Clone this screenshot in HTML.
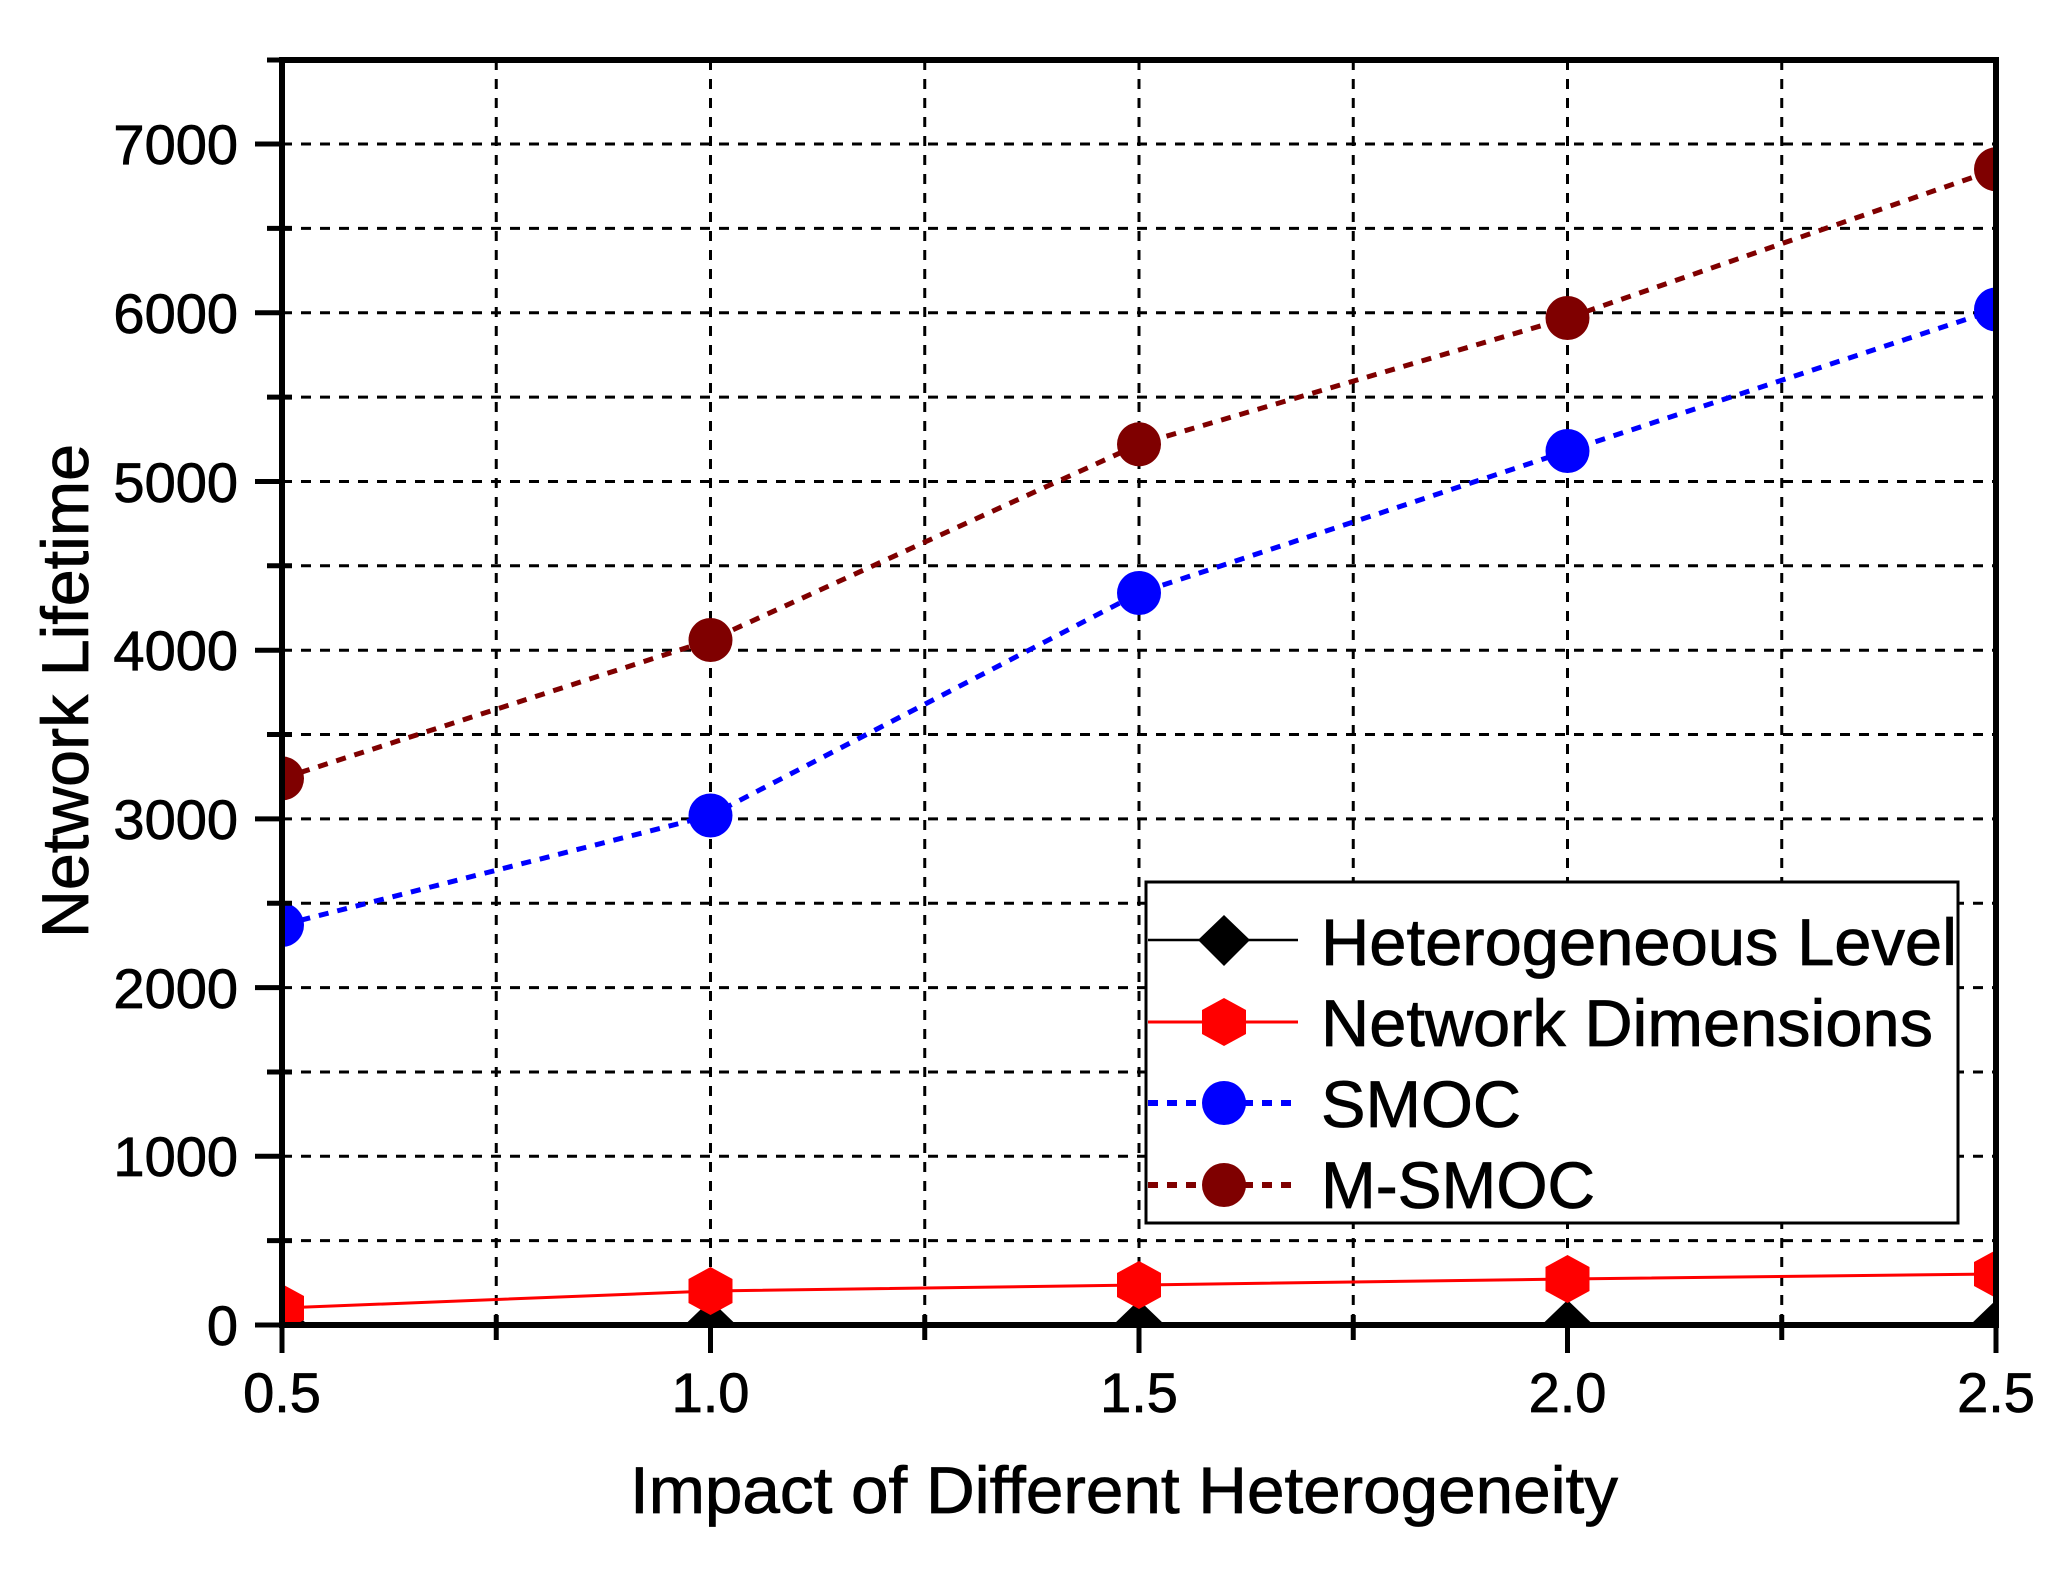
<!DOCTYPE html>
<html><head><meta charset="utf-8"><style>html,body{margin:0;padding:0;background:#fff}svg{display:block}</style></head>
<body>
<svg width="2059" height="1571" viewBox="0 0 2059 1571" xmlns="http://www.w3.org/2000/svg" font-family="Liberation Sans, Arial, sans-serif">
<defs>
<clipPath id="pa"><rect x="282" y="60" width="1714" height="1265"/></clipPath>
</defs>
<rect width="2059" height="1571" fill="#fff"/>
<g stroke="#000" stroke-width="3" stroke-dasharray="10,9" fill="none">
<line x1="282" y1="1240.6" x2="1996" y2="1240.6"/>
<line x1="282" y1="1156.3" x2="1996" y2="1156.3"/>
<line x1="282" y1="1072" x2="1996" y2="1072"/>
<line x1="282" y1="987.6" x2="1996" y2="987.6"/>
<line x1="282" y1="903.2" x2="1996" y2="903.2"/>
<line x1="282" y1="818.9" x2="1996" y2="818.9"/>
<line x1="282" y1="734.5" x2="1996" y2="734.5"/>
<line x1="282" y1="650.2" x2="1996" y2="650.2"/>
<line x1="282" y1="565.8" x2="1996" y2="565.8"/>
<line x1="282" y1="481.5" x2="1996" y2="481.5"/>
<line x1="282" y1="397.1" x2="1996" y2="397.1"/>
<line x1="282" y1="312.8" x2="1996" y2="312.8"/>
<line x1="282" y1="228.4" x2="1996" y2="228.4"/>
<line x1="282" y1="144" x2="1996" y2="144"/>
<line x1="496.25" y1="60" x2="496.25" y2="1325"/>
<line x1="710.5" y1="60" x2="710.5" y2="1325"/>
<line x1="924.75" y1="60" x2="924.75" y2="1325"/>
<line x1="1139" y1="60" x2="1139" y2="1325"/>
<line x1="1353.25" y1="60" x2="1353.25" y2="1325"/>
<line x1="1567.5" y1="60" x2="1567.5" y2="1325"/>
<line x1="1781.75" y1="60" x2="1781.75" y2="1325"/>
</g>
<g clip-path="url(#pa)">
<polyline points="282,1325 710.5,1325 1139,1325 1567.5,1325 1996,1325" stroke="#000" stroke-width="2.5" fill="none"/>
<g fill="#000">
<polygon points="282,1300 308,1325 282,1350 256,1325"/>
<polygon points="710.5,1300 736.5,1325 710.5,1350 684.5,1325"/>
<polygon points="1139,1300 1165,1325 1139,1350 1113,1325"/>
<polygon points="1567.5,1300 1593.5,1325 1567.5,1350 1541.5,1325"/>
<polygon points="1996,1300 2022,1325 1996,1350 1970,1325"/>
</g>
<polyline points="282,1308 710.5,1291 1139,1285 1567.5,1279 1996,1274" stroke="#f00" stroke-width="3" fill="none"/>
<g fill="#f00">
<polygon points="282,1284 304,1296 304,1320 282,1332 260,1320 260,1296"/>
<polygon points="710.5,1267 732.5,1279 732.5,1303 710.5,1315 688.5,1303 688.5,1279"/>
<polygon points="1139,1261 1161,1273 1161,1297 1139,1309 1117,1297 1117,1273"/>
<polygon points="1567.5,1255 1589.5,1267 1589.5,1291 1567.5,1303 1545.5,1291 1545.5,1267"/>
<polygon points="1996,1250 2018,1262 2018,1286 1996,1298 1974,1286 1974,1262"/>
</g>
<polyline points="282,925 710.5,815.5 1139,593 1567.5,451 1996,309.5" stroke="#00f" stroke-width="5" stroke-dasharray="10,9" fill="none"/>
<g fill="#00f">
<ellipse cx="282" cy="925" rx="22" ry="22"/>
<ellipse cx="710.5" cy="815.5" rx="22" ry="22"/>
<ellipse cx="1139" cy="593" rx="22" ry="22"/>
<ellipse cx="1567.5" cy="451" rx="22" ry="22"/>
<ellipse cx="1996" cy="309.5" rx="22" ry="22"/>
</g>
<polyline points="282,778.4 710.5,640 1139,444.3 1567.5,318 1996,169.3" stroke="#7f0000" stroke-width="5" stroke-dasharray="10,9" fill="none"/>
<g fill="#7f0000">
<ellipse cx="282" cy="778.4" rx="22" ry="22"/>
<ellipse cx="710.5" cy="640" rx="22" ry="22"/>
<ellipse cx="1139" cy="444.3" rx="22" ry="22"/>
<ellipse cx="1567.5" cy="318" rx="22" ry="22"/>
<ellipse cx="1996" cy="169.3" rx="22" ry="22"/>
</g>
</g>
<rect x="282" y="60" width="1714" height="1265" fill="none" stroke="#000" stroke-width="6"/>
<g stroke="#000" stroke-width="5">
<line x1="255" y1="1325" x2="282" y2="1325"/>
<line x1="255" y1="1156.3" x2="282" y2="1156.3"/>
<line x1="255" y1="987.6" x2="282" y2="987.6"/>
<line x1="255" y1="818.9" x2="282" y2="818.9"/>
<line x1="255" y1="650.2" x2="282" y2="650.2"/>
<line x1="255" y1="481.5" x2="282" y2="481.5"/>
<line x1="255" y1="312.8" x2="282" y2="312.8"/>
<line x1="255" y1="144" x2="282" y2="144"/>
<line x1="267" y1="1240.6" x2="292" y2="1240.6"/>
<line x1="267" y1="1072" x2="292" y2="1072"/>
<line x1="267" y1="903.2" x2="292" y2="903.2"/>
<line x1="267" y1="734.5" x2="292" y2="734.5"/>
<line x1="267" y1="565.8" x2="292" y2="565.8"/>
<line x1="267" y1="397.1" x2="292" y2="397.1"/>
<line x1="267" y1="228.4" x2="292" y2="228.4"/>
<line x1="267" y1="60" x2="292" y2="60"/>
<line x1="282" y1="1325" x2="282" y2="1353"/>
<line x1="710.5" y1="1325" x2="710.5" y2="1353"/>
<line x1="1139" y1="1325" x2="1139" y2="1353"/>
<line x1="1567.5" y1="1325" x2="1567.5" y2="1353"/>
<line x1="1996" y1="1325" x2="1996" y2="1353"/>
<line x1="496.25" y1="1315" x2="496.25" y2="1340"/>
<line x1="924.75" y1="1315" x2="924.75" y2="1340"/>
<line x1="1353.25" y1="1315" x2="1353.25" y2="1340"/>
<line x1="1781.75" y1="1315" x2="1781.75" y2="1340"/>
</g>
<g font-size="56" text-anchor="end" fill="#000" stroke="#000" stroke-width="0.8">
<text x="238" y="1345">0</text>
<text x="238" y="1176">1000</text>
<text x="238" y="1008">2000</text>
<text x="238" y="839">3000</text>
<text x="238" y="670">4000</text>
<text x="238" y="502">5000</text>
<text x="238" y="333">6000</text>
<text x="238" y="164">7000</text>
</g>
<g font-size="56" text-anchor="middle" fill="#000" stroke="#000" stroke-width="0.8">
<text x="282" y="1412">0.5</text>
<text x="710.5" y="1412">1.0</text>
<text x="1139" y="1412">1.5</text>
<text x="1567.5" y="1412">2.0</text>
<text x="1996" y="1412">2.5</text>
</g>
<text x="630" y="1513" font-size="66" textLength="988" lengthAdjust="spacingAndGlyphs" stroke="#000" stroke-width="0.8">Impact of Different Heterogeneity</text>
<text transform="translate(88,938) rotate(-90)" font-size="66" textLength="494" lengthAdjust="spacingAndGlyphs" stroke="#000" stroke-width="0.8">Network Lifetime</text>
<rect x="1146" y="882" width="812" height="341" fill="#fff" stroke="#000" stroke-width="3"/>
<line x1="1148" y1="940" x2="1298" y2="940" stroke="#000" stroke-width="2.5"/>
<polygon points="1224,915 1250,940 1224,966 1198,940" fill="#000"/>
<line x1="1148" y1="1022" x2="1298" y2="1022" stroke="#f00" stroke-width="3"/>
<polygon points="1224,998 1246,1010 1246,1034 1224,1046 1202,1034 1202,1010" fill="#f00"/>
<line x1="1148" y1="1103" x2="1298" y2="1103" stroke="#00f" stroke-width="6" stroke-dasharray="10,9"/>
<ellipse cx="1224" cy="1103" rx="22" ry="22" fill="#00f"/>
<line x1="1148" y1="1185" x2="1298" y2="1185" stroke="#7f0000" stroke-width="6" stroke-dasharray="10,9"/>
<ellipse cx="1224" cy="1185" rx="22" ry="22" fill="#7f0000"/>
<g font-size="66" fill="#000" stroke="#000" stroke-width="0.8">
<text x="1321" y="965" textLength="636" lengthAdjust="spacingAndGlyphs">Heterogeneous Level</text>
<text x="1321" y="1046" textLength="612" lengthAdjust="spacingAndGlyphs">Network Dimensions</text>
<text x="1321" y="1127" textLength="200" lengthAdjust="spacingAndGlyphs">SMOC</text>
<text x="1321" y="1208" textLength="274" lengthAdjust="spacingAndGlyphs">M-SMOC</text>
</g>
</svg>
</body></html>
